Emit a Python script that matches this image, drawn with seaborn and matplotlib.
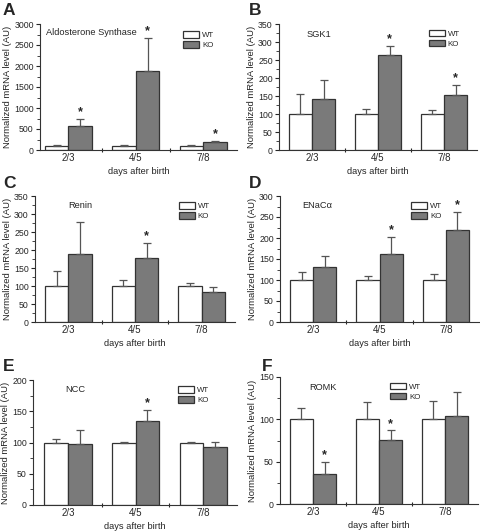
import matplotlib
matplotlib.use("Agg")
import matplotlib.pyplot as plt
import seaborn as sns
import pandas as pd
import numpy as np
from matplotlib.ticker import MultipleLocator, FixedLocator

sns.set_theme(style="ticks")
plt.rcParams['font.family'] = ['Liberation Sans', 'DejaVu Sans']

days = ["2/3", "4/5", "7/8"]
genes = ["Aldosterone Synthase", "SGK1", "Renin", "ENaC\u03b1", "NCC", "ROMK"]
letters = ["A", "B", "C", "D", "E", "F"]

wt_mean = [[100, 100, 100], [100, 100, 100], [100, 100, 100],
           [100, 100, 100], [100, 100, 100], [100, 100, 100]]
wt_err = [[18, 20, 15], [55, 15, 12], [42, 18, 7],
          [18, 9, 14], [5, 1, 1], [13, 20, 22]]
ko_mean = [[580, 1870, 185], [143, 265, 152], [190, 178, 82],
           [130, 163, 218], [97, 135, 93], [35, 76, 104]]
ko_err = [[160, 790, 30], [52, 25, 28], [87, 42, 15],
          [27, 39, 44], [23, 17, 8], [15, 11, 28]]
ko_star = [[True, True, True], [False, True, True], [False, True, False],
           [False, True, True], [False, True, False], [True, True, False]]
ymax = [3000, 350, 350, 300, 200, 150]
ystep = [500, 50, 50, 50, 50, 50]

W, H = 480, 532
fig = plt.figure(figsize=(W / 100, H / 100), dpi=100)

# axes boxes in pixels: left, right, top, bottom
boxes = [(40, 237, 24, 150), (279, 477, 24, 150),
         (35, 235, 196, 322), (280, 479, 196, 322),
         (33, 237, 380, 505), (280, 478, 377, 504)]
xleft = [-0.42, -0.5, -0.5, -0.5, -0.52, -0.5]
letter_pos = [(3, 3), (249, 3), (3, 176), (249, 176), (3, 359), (262, 359)]
title_pos = [(0.03, 0.965), (0.14, 0.95), (0.165, 0.96), (0.11, 0.96), (0.157, 0.96), (0.15, 0.95)]
legend_anchor = [(0.90, 0.97), (0.93, 0.98), (0.89, 0.975), (0.83, 0.975), (0.88, 0.975), (0.73, 0.98)]

KO_COLOR = "#7a7a7a"
EDGE = "#333333"
fs = 6.3

for i in range(6):
    l, r, t, b = boxes[i]
    ax = fig.add_axes([l / W, 1 - b / H, (r - l) / W, (b - t) / H])
    df = pd.DataFrame({
        "day": days * 2,
        "group": ["WT"] * 3 + ["KO"] * 3,
        "value": wt_mean[i] + ko_mean[i],
    })
    sns.barplot(data=df, x="day", y="value", hue="group", order=days,
                hue_order=["WT", "KO"], palette={"WT": "white", "KO": KO_COLOR},
                edgecolor=EDGE, linewidth=0.9, width=0.7, errorbar=None,
                saturation=1, ax=ax)
    patches = list(ax.patches)[:6]
    wt_p = patches[:3]
    ko_p = patches[3:6]
    wx = [p.get_x() + p.get_width() / 2 for p in wt_p]
    kx = [p.get_x() + p.get_width() / 2 for p in ko_p]
    ax.errorbar(wx, wt_mean[i], yerr=[np.zeros(3), wt_err[i]], fmt="none",
                ecolor="#555555", elinewidth=0.9, capsize=2.7, capthick=0.9, zorder=1)
    ax.errorbar(kx, ko_mean[i], yerr=[np.zeros(3), ko_err[i]], fmt="none",
                ecolor="#555555", elinewidth=0.9, capsize=2.7, capthick=0.9, zorder=1)
    for j in range(3):
        if ko_star[i][j]:
            ax.text(kx[j], ko_mean[i][j] + ko_err[i][j] + ymax[i] * 0.005, "*",
                    ha="center", va="bottom", fontsize=9, fontweight="bold")
    ax.set_xlim(xleft[i], 2.5)
    ax.set_ylim(0, ymax[i])
    ax.yaxis.set_major_locator(MultipleLocator(ystep[i]))
    ax.yaxis.set_minor_locator(MultipleLocator(ystep[i] / 2))
    ax.tick_params(axis="y", which="major", direction="out", length=3, width=0.8, labelsize=fs, pad=1.5)
    ax.tick_params(axis="y", which="minor", direction="out", length=2, width=0.6)
    ax.tick_params(axis="x", which="major", length=0, labelsize=7, pad=2)
    ax.xaxis.set_minor_locator(FixedLocator([0.5, 1.5]))
    ax.tick_params(axis="x", which="minor", direction="inout", length=3, width=0.8)
    sns.despine(ax=ax)
    for s in ["left", "bottom"]:
        ax.spines[s].set_linewidth(0.8)
        ax.spines[s].set_color("#333333")
    ax.set_xlabel("days after birth", fontsize=6.7, labelpad=3)
    ax.set_ylabel("Normalized mRNA level (AU)", fontsize=6.8, labelpad=1.5)
    ax.text(title_pos[i][0], title_pos[i][1], genes[i], transform=ax.transAxes,
            ha="left", va="top", fontsize=6.7)
    ax.legend(loc="upper right", bbox_to_anchor=legend_anchor[i], fontsize=5.7,
              frameon=False, handlelength=2.0, handleheight=0.9,
              borderaxespad=0, labelspacing=0.25, handletextpad=0.4)
    fig.text(letter_pos[i][0] / W, 1 - letter_pos[i][1] / H, letters[i],
             ha="left", va="top", fontsize=12.5, fontweight="bold")

fig.savefig("out.png", dpi=100)
